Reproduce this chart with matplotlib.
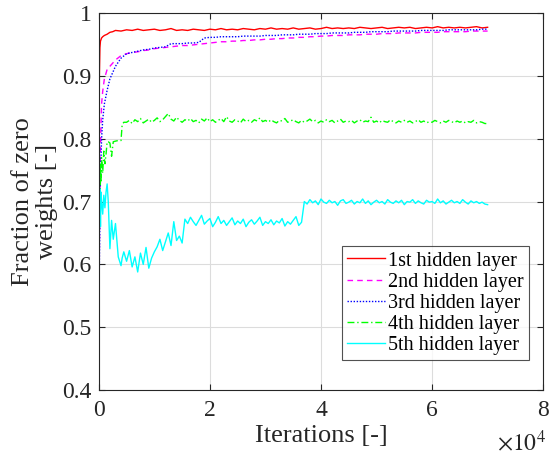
import numpy as np
import matplotlib
matplotlib.use("Agg")
import matplotlib.pyplot as plt

plt.rcParams["font.family"] = ["Liberation Serif", "DejaVu Serif"]
plt.rcParams["mathtext.fontset"] = "stix"

# iteration grids (logged values)
it_smooth = np.concatenate([[0, 100, 200, 300, 500, 700, 1000, 1500, 2000, 2500, 3000, 4000],
                            np.arange(5000, 70001, 1000)])
it_noisy = np.concatenate([[0, 100, 200, 300, 400, 500, 700, 900, 1100, 1300, 1500, 1700,
                            2000, 2300, 2600, 3000, 3500, 4000, 4200, 4500],
                           np.arange(5000, 70001, 500)])

layer1 = [0.72, 0.90, 0.945, 0.955, 0.96, 0.962, 0.964, 0.966, 0.969, 0.970, 0.972, 0.971,
          0.973, 0.972, 0.974, 0.972, 0.973, 0.974, 0.972, 0.973, 0.975, 0.972,
          0.973, 0.972, 0.974, 0.973, 0.972, 0.974, 0.973, 0.975, 0.973, 0.974,
          0.973, 0.975, 0.974, 0.973, 0.975, 0.974, 0.976, 0.974, 0.975, 0.974,
          0.976, 0.974, 0.975, 0.976, 0.974, 0.975, 0.977, 0.975, 0.976, 0.975,
          0.976, 0.975, 0.977, 0.976, 0.975, 0.976, 0.977, 0.975, 0.976, 0.977,
          0.976, 0.977, 0.975, 0.976, 0.977, 0.976, 0.978, 0.976, 0.977, 0.976,
          0.977, 0.976, 0.977, 0.978, 0.976, 0.977]

layer2 = [0.50, 0.62, 0.72, 0.79, 0.855, 0.875, 0.895, 0.91, 0.915, 0.92, 0.925, 0.932,
          0.935, 0.937, 0.938, 0.940, 0.941, 0.943, 0.944, 0.945, 0.946, 0.947,
          0.948, 0.948, 0.949, 0.950, 0.951, 0.952, 0.953, 0.954, 0.954, 0.955,
          0.955, 0.956, 0.956, 0.957, 0.957, 0.958, 0.958, 0.959, 0.959, 0.960,
          0.960, 0.961, 0.961, 0.962, 0.962, 0.963, 0.963, 0.964, 0.964, 0.964,
          0.965, 0.965, 0.965, 0.966, 0.966, 0.966, 0.967, 0.967, 0.967, 0.968,
          0.968, 0.968, 0.968, 0.969, 0.969, 0.969, 0.969, 0.970, 0.970, 0.970,
          0.970, 0.970, 0.971, 0.971, 0.971, 0.971]

layer3 = [0.52, 0.60, 0.68, 0.74, 0.80, 0.83, 0.855, 0.877, 0.895, 0.905, 0.915, 0.928,
          0.935, 0.937, 0.939, 0.941, 0.942, 0.944, 0.945, 0.946, 0.951, 0.951,
          0.951, 0.952, 0.952, 0.953, 0.960, 0.961, 0.961, 0.962, 0.962, 0.962,
          0.962, 0.963, 0.963, 0.963, 0.963, 0.964, 0.964, 0.964, 0.965, 0.965,
          0.965, 0.966, 0.966, 0.966, 0.967, 0.967, 0.967, 0.968, 0.968, 0.968,
          0.968, 0.969, 0.969, 0.969, 0.970, 0.970, 0.970, 0.970, 0.971, 0.971,
          0.971, 0.971, 0.971, 0.972, 0.972, 0.972, 0.972, 0.972, 0.973, 0.973,
          0.973, 0.973, 0.973, 0.973, 0.974, 0.974]

layer4 = [0.70, 0.74, 0.72, 0.76, 0.73, 0.77, 0.745, 0.78, 0.76, 0.775, 0.795, 0.795,
          0.793, 0.772, 0.795, 0.796, 0.797, 0.797, 0.822, 0.826,
          0.826, 0.829, 0.824, 0.830, 0.827, 0.832, 0.825, 0.828, 0.831, 0.826,
          0.829, 0.833, 0.827, 0.830, 0.835, 0.840, 0.831, 0.828, 0.834, 0.829,
          0.826, 0.830, 0.828, 0.832, 0.827, 0.829, 0.825, 0.831, 0.828, 0.833,
          0.827, 0.830, 0.826, 0.829, 0.832, 0.827, 0.835, 0.828, 0.826, 0.830,
          0.828, 0.825, 0.831, 0.827, 0.829, 0.826, 0.830, 0.828, 0.833, 0.827,
          0.829, 0.826, 0.830, 0.827, 0.825, 0.829, 0.828, 0.832, 0.826, 0.828,
          0.830, 0.827, 0.825, 0.829, 0.826, 0.828, 0.831, 0.827, 0.829, 0.825,
          0.828, 0.826, 0.830, 0.827, 0.829, 0.825, 0.828, 0.831, 0.826, 0.828,
          0.827, 0.829, 0.825, 0.828, 0.830, 0.826, 0.828, 0.827, 0.834, 0.826,
          0.828, 0.825, 0.829, 0.827, 0.826, 0.830, 0.827, 0.825, 0.828, 0.826,
          0.829, 0.826, 0.828, 0.825, 0.827, 0.830, 0.826, 0.828, 0.825, 0.827,
          0.826, 0.829, 0.827, 0.825, 0.828, 0.826, 0.829, 0.827, 0.825, 0.828,
          0.826, 0.828, 0.825, 0.827, 0.826, 0.829, 0.825, 0.827, 0.826, 0.824,
          0.824]

layer5 = [0.55, 0.70, 0.72, 0.66, 0.715, 0.70, 0.68, 0.71, 0.69, 0.715, 0.728, 0.70,
          0.625, 0.67, 0.64, 0.665, 0.612, 0.598, 0.61, 0.62,
          0.605, 0.622, 0.596, 0.612, 0.588, 0.618, 0.600, 0.627, 0.594, 0.610, 0.620,
          0.628, 0.640, 0.622, 0.636, 0.650, 0.630, 0.668, 0.638, 0.645, 0.634,
          0.672, 0.665, 0.675, 0.668, 0.662, 0.670, 0.678, 0.664, 0.669, 0.673,
          0.660, 0.667, 0.676, 0.665, 0.670, 0.662, 0.668, 0.674, 0.663, 0.669,
          0.665, 0.672, 0.660, 0.667, 0.671, 0.664, 0.669, 0.675, 0.662, 0.668,
          0.665, 0.671, 0.663, 0.669, 0.666, 0.673, 0.661, 0.668, 0.664, 0.670,
          0.676, 0.662, 0.667,
          0.700, 0.696, 0.703, 0.698, 0.701, 0.695, 0.704, 0.699, 0.697, 0.702,
          0.698, 0.700, 0.694, 0.701, 0.703, 0.697, 0.699, 0.702, 0.696, 0.700,
          0.698, 0.704, 0.697, 0.701, 0.695, 0.699, 0.702, 0.698, 0.700, 0.696,
          0.703, 0.699, 0.697, 0.701, 0.698, 0.702, 0.695, 0.700, 0.699, 0.703,
          0.697, 0.701, 0.698, 0.696, 0.702, 0.699, 0.700, 0.697, 0.704, 0.698,
          0.701, 0.696, 0.699, 0.702, 0.698, 0.700, 0.697, 0.703, 0.699, 0.696,
          0.701, 0.698, 0.700, 0.697, 0.699, 0.696, 0.695]

labels = ["1st hidden layer", "2nd hidden layer", "3rd hidden layer",
          "4th hidden layer", "5th hidden layer"]

fig = plt.figure(figsize=(5.52, 4.58), dpi=100)
ax = fig.add_axes([0.179, 0.148, 0.805, 0.824])

ax.plot(it_smooth, layer1, color="#ff0000", lw=1.0, ls="-", label=labels[0])
ax.plot(it_smooth, layer2, color="#ff00ff", lw=1.0, ls=(0, (4, 3)), label=labels[1])
ax.plot(it_smooth, layer3, color="#0000ff", lw=1.0, ls=(0, (1, 1.2)), label=labels[2])
ax.plot(it_noisy, layer4, color="#00ff00", lw=1.0, ls=(0, (5, 2, 1, 2)), label=labels[3])
ax.plot(it_noisy, layer5, color="#00ffff", lw=1.0, ls="-", label=labels[4])

ax.set_xlim(0, 80000)
ax.set_ylim(0.4, 1.0)
ax.set_xticks(np.arange(0, 80001, 20000))
ax.set_xticklabels(["0", "2", "4", "6", "8"])
ax.set_yticks(np.arange(0.4, 1.001, 0.1))
ax.set_yticklabels(["0.4", "0.5", "0.6", "0.7", "0.8", "0.9", "1"])
ax.grid(True, color="#dcdcdc", lw=0.8)
ax.set_axisbelow(True)
ax.tick_params(direction="in", top=True, right=True, labelsize=17, colors="#262626",
               length=4)
ax.tick_params(axis="x", pad=7)
ax.tick_params(axis="y", pad=5)
for s in ax.spines.values():
    s.set_color("#262626")
    s.set_linewidth(0.8)

ax.set_xlabel("Iterations [-]", fontsize=19, color="#262626", labelpad=3)
ax.set_ylabel("Fraction of zero\nweights [-]", fontsize=19, color="#262626",
              linespacing=1.15, labelpad=3)
ax.text(1.006, -0.159, r"$\times 10^4$", transform=ax.transAxes, ha="right",
        va="baseline", fontsize=17, color="#262626")

leg = ax.legend(loc="lower right", bbox_to_anchor=(0.968, 0.08), borderaxespad=0,
                fontsize=14.5, frameon=True, fancybox=False, edgecolor="#262626",
                handlelength=1.9, handletextpad=0.15, labelspacing=0.1,
                borderpad=0.25)
leg.get_frame().set_linewidth(0.8)

fig.savefig("out.png", dpi=100)
